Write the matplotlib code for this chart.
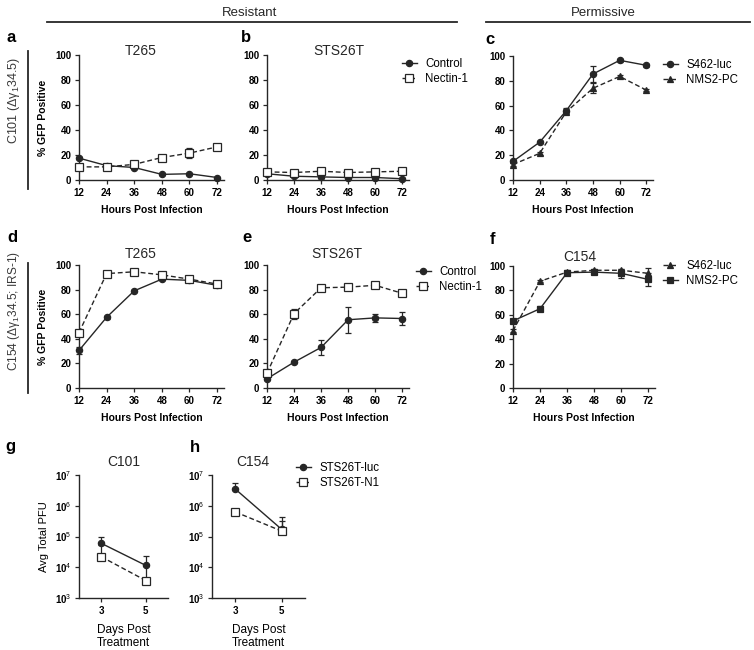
import numpy as np
import matplotlib
matplotlib.use("Agg")
import matplotlib.pyplot as plt
from matplotlib.lines import Line2D
from matplotlib.ticker import NullLocator

plt.rcParams['font.family'] = ['Liberation Sans', 'DejaVu Sans']
plt.rcParams['mathtext.fontset'] = 'custom'
plt.rcParams['mathtext.rm'] = 'Liberation Sans'
plt.rcParams['mathtext.it'] = 'Liberation Sans:italic'
plt.rcParams['mathtext.bf'] = 'Liberation Sans:bold'

INK = "#262626"

# ---- data ----
hours = [12, 24, 36, 48, 60, 72]
days = [3, 5]

# a: T265, C101
a_ctrl = [17.5, 11.5, 10, 4.5, 5, 2]
a_ctrl_err = [1, 0.5, 0.5, 0.5, 0.5, 0.5]
a_nec = [10.5, 10.5, 12.5, 18, 21.5, 26.5]
a_nec_err = [1, 1, 1.5, 1, 4, 2]

# b: STS26T, C101
b_ctrl = [5, 3, 2.5, 2, 2, 1]
b_ctrl_err = [0.5, 0.5, 0.5, 0.5, 0.5, 0.5]
b_nec = [6.5, 6, 7, 6, 6.5, 7]
b_nec_err = [1, 0.5, 1, 0.5, 0.5, 0.5]

# c: permissive, C101
c_s462 = [15, 30.5, 56, 85.5, 96.5, 92.5]
c_s462_err = [1, 1, 2, 6.5, 1, 1]
c_nms2 = [12.5, 21.5, 55, 74, 83.5, 72.5]
c_nms2_err = [1, 1, 2, 4, 1, 1]

# d: T265, C154
d_ctrl = [30.5, 57.5, 79, 88.5, 87.5, 83.5]
d_ctrl_err = [3, 1, 1, 1, 1, 1]
d_nec = [45, 93, 94.5, 92, 88.5, 84.5]
d_nec_err = [2, 1, 1, 1, 1, 1]

# e: STS26T, C154
e_ctrl = [7.5, 21, 33, 55.5, 57, 56.5]
e_ctrl_err = [1, 1, 6, 10.5, 3, 5]
e_nec = [12, 60.5, 81.5, 82, 83.5, 77]
e_nec_err = [2, 4, 2, 1, 1, 1]

# f: C154 permissive
f_s462 = [47, 87.5, 95, 96.5, 96.5, 94]
f_s462_err = [1, 1, 1, 1, 1, 4]
f_nms2 = [55, 65, 94.5, 95, 94, 89]
f_nms2_err = [1, 2, 2, 1.5, 3.5, 5.5]

# g, h: PFU (errors drawn above only)
g_luc = [6.0e4, 1.15e4]
g_luc_up = [4.0e4, 1.25e4]
g_n1 = [2.2e4, 3.7e3]
g_n1_up = [3.0e4, 7.0e3]
h_luc = [3.5e6, 1.7e5]
h_luc_up = [2.0e6, 2.6e5]
h_n1 = [6.3e5, 1.5e5]
h_n1_up = [1.0e5, 1.7e5]

W, H = 754, 650
fig = plt.figure(figsize=(W / 100, H / 100), dpi=100)


def box(l, t, r, b):
    return [l / W, 1 - b / H, (r - l) / W, (b - t) / H]


def ftxt(x, y, s, **kw):
    kw.setdefault("ha", "center")
    kw.setdefault("va", "center")
    fig.text(x / W, 1 - y / H, s, **kw)


def style(ax):
    for s in ["top", "right"]:
        ax.spines[s].set_visible(False)
    for s in ["left", "bottom"]:
        ax.spines[s].set_linewidth(1.0)
        ax.spines[s].set_color(INK)
    ax.tick_params(direction="out", length=3, width=0.9, color=INK,
                   labelsize=7, pad=2.5)
    for lab in ax.get_xticklabels() + ax.get_yticklabels():
        lab.set_fontweight("bold")


def curve(ax, x, y, err, marker, filled, dashed, label, ms=4.5):
    ax.errorbar(x, y, yerr=err, fmt="none", ecolor=INK, elinewidth=0.9,
                capsize=2.2, capthick=0.9, clip_on=False)
    ax.plot(x, y, ls=(0, (3.5, 2)) if dashed else "-", marker=marker,
            mfc=INK if filled else "white", mec=INK, mew=0.9, color=INK,
            lw=1.0, ms=ms, clip_on=False, label=label, zorder=3)


def pct_axes(rect, ylabel=False):
    ax = fig.add_axes(box(*rect))
    ax.set_xlim(12, 75)
    ax.set_ylim(0, 100)
    ax.set_xticks(hours)
    ax.set_yticks([0, 20, 40, 60, 80, 100])
    ax.set_xlabel("Hours Post Infection", fontsize=7.5, fontweight="bold",
                  labelpad=5)
    if ylabel:
        ax.set_ylabel("% GFP Positive", fontsize=7.5, fontweight="bold",
                      labelpad=5)
    style(ax)
    return ax


def legend(ax, x, y):
    ax.legend(loc="upper left", bbox_to_anchor=(x / W, 1 - y / H),
              bbox_transform=fig.transFigure, frameon=False, fontsize=8.3,
              handlelength=1.3, handletextpad=0.7, labelspacing=0.3,
              borderpad=0, borderaxespad=0)


# ---- row 1 ----
ax = pct_axes((79, 55, 224, 180), ylabel=True)
curve(ax, hours, a_ctrl, a_ctrl_err, "o", True, False, "Control")
curve(ax, hours, a_nec, a_nec_err, "s", False, True, "Nectin-1", ms=5.5)

ax = pct_axes((267, 55, 409, 180))
curve(ax, hours, b_ctrl, b_ctrl_err, "o", True, False, "Control")
curve(ax, hours, b_nec, b_nec_err, "s", False, True, "Nectin-1", ms=5.5)
legend(ax, 402, 58)

ax = pct_axes((513, 56, 653, 180))
curve(ax, hours, c_s462, c_s462_err, "o", True, False, "S462-luc")
curve(ax, hours, c_nms2, c_nms2_err, "^", True, True, "NMS2-PC", ms=4)
legend(ax, 663, 59)

# ---- row 2 ----
ax = pct_axes((79, 265, 224, 388), ylabel=True)
curve(ax, hours, d_ctrl, d_ctrl_err, "o", True, False, "Control")
curve(ax, hours, d_nec, d_nec_err, "s", False, True, "Nectin-1", ms=5.5)

ax = pct_axes((267, 265, 409, 388))
curve(ax, hours, e_ctrl, e_ctrl_err, "o", True, False, "Control")
curve(ax, hours, e_nec, e_nec_err, "s", False, True, "Nectin-1", ms=5.5)
legend(ax, 416, 266)

ax = pct_axes((513, 266, 655, 388))
curve(ax, hours, f_s462, f_s462_err, "^", True, True, "S462-luc", ms=4)
curve(ax, hours, f_nms2, f_nms2_err, "s", True, False, "NMS2-PC", ms=4.5)
legend(ax, 663, 260)


# ---- row 3 ----
def pfu_axes(rect, ylabel=False):
    ax = fig.add_axes(box(*rect))
    ax.set_yscale("log")
    ax.set_ylim(1e3, 1e7)
    ax.set_xlim(2, 6)
    ax.set_xticks(days)
    ax.set_yticks([1e3, 1e4, 1e5, 1e6, 1e7])
    ax.set_yticklabels(["10$^3$", "10$^4$", "10$^5$", "10$^6$", "10$^7$"])
    ax.yaxis.set_minor_locator(NullLocator())
    ax.set_xlabel("Days Post\nTreatment", fontsize=8.5, labelpad=6,
                  linespacing=1.1)
    if ylabel:
        ax.set_ylabel("Avg Total PFU", fontsize=8, labelpad=4)
    style(ax)
    return ax


ax = pfu_axes((79, 475, 168, 598), ylabel=True)
curve(ax, days, g_luc, [[0, 0], g_luc_up], "o", True, False, "STS26T-luc")
curve(ax, days, g_n1, [[0, 0], g_n1_up], "s", False, True, "STS26T-N1", ms=5.5)

ax = pfu_axes((212, 475, 305, 598))
curve(ax, days, h_luc, [[0, 0], h_luc_up], "o", True, False, "STS26T-luc")
curve(ax, days, h_n1, [[0, 0], h_n1_up], "s", False, True, "STS26T-N1", ms=5.5)
legend(ax, 296, 462)

# ---- titles, letters, headers ----
for x, y, s in [(141, 51, "T265"), (339, 51, "STS26T"),
                (141, 254, "T265"), (337, 254, "STS26T"), (580, 257, "C154"),
                (124, 462, "C101"), (253, 462, "C154")]:
    ftxt(x, y, s, fontsize=10, color=INK)

for x, y, s in [(11, 38, "a"), (246, 38, "b"), (490, 40, "c"),
                (12, 238, "d"), (247, 238, "e"), (492, 240, "f"),
                (10, 447, "g"), (195, 448, "h")]:
    ftxt(x, y, s, fontsize=12, fontweight="bold", color="black")

ftxt(250, 13, "Resistant", fontsize=9.5, color=INK)
ftxt(603, 13, "Permissive", fontsize=9.5, color=INK)
fig.add_artist(Line2D([47 / W, 457 / W], [1 - 22 / H] * 2, color=INK, lw=1.3))
fig.add_artist(Line2D([486 / W, 750 / W], [1 - 22 / H] * 2, color=INK, lw=1.3))

ftxt(14, 100, "C101 (\u0394\u03b3$_1$34.5)", rotation=90, fontsize=9,
     color="#3a3a3a")
ftxt(14, 311, "C154 (\u0394\u03b3$_1$34.5; IRS-1)", rotation=90, fontsize=8.6,
     color="#3a3a3a")
fig.add_artist(Line2D([28 / W] * 2, [1 - 51 / H, 1 - 189 / H], color=INK, lw=1.3))
fig.add_artist(Line2D([28 / W] * 2, [1 - 263 / H, 1 - 393 / H], color=INK, lw=1.3))

fig.savefig("out.png", dpi=100)
